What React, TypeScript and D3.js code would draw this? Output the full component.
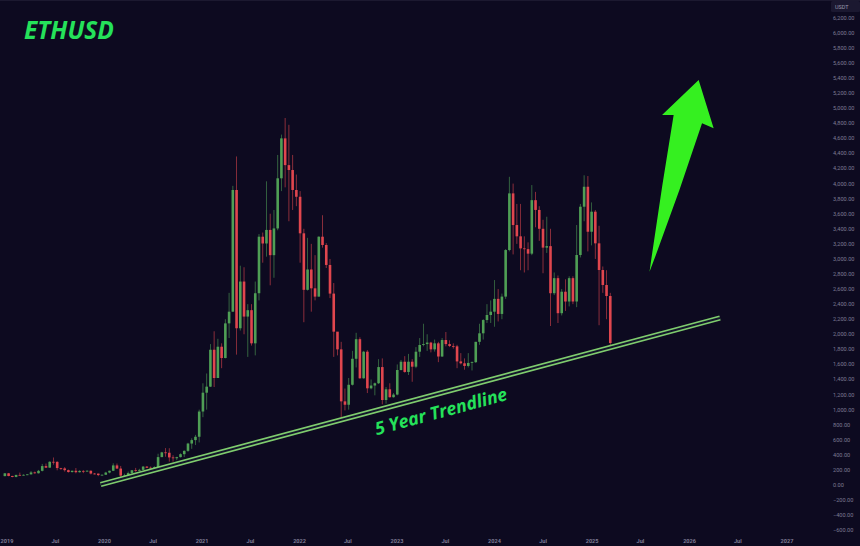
import React from "react";
import * as d3 from "d3";

// ---- Data: ETHUSD 2-week candles starting 2018-12-24 ----
const firstCandle = "2018-12-24";
const candleStepDays = 14;
const firstOpen = 118;
const closes = [
  155, 120, 107, 134, 131, 135, 141, 167, 156, 188, 251, 230, 308, 307, 225, 220, 197, 172, 189, 170, 187, 181, 189, 152, 151, 132, 136,
  165, 189, 260, 218, 125, 125, 158, 196, 188, 201, 244, 229, 228, 236, 370, 433, 428, 366, 355, 370, 409, 453, 550, 596, 640, 975,
  1225, 1305, 1795, 1420, 1835, 1685, 2145, 2300, 3915, 2080, 2700, 2235, 2320, 1880, 2545, 3295, 3205, 3385, 3050, 3405, 4070, 4600, 4245, 4180, 3915, 3825,
  3340, 2590, 2860, 2610, 2500, 3295, 3185, 2920, 2540, 2035, 1800, 1110, 1065, 1330, 1675, 1935, 1416, 1769, 1283, 1320, 1350, 1565, 1128, 1270, 1165, 1200,
  1526, 1636, 1500, 1636, 1570, 1769, 1858, 1870, 1890, 1800, 1880, 1705, 1924, 1870, 1845, 1840, 1640, 1615, 1580, 1620, 1630, 1900, 2013, 2189, 2256, 2300,
  2470, 2270, 2500, 3118, 3870, 3450, 3300, 3140, 3130, 3070, 3780, 3650, 3400, 3150, 3170, 2545, 2745, 2280, 2565, 2435, 2745, 2435, 3052, 3693, 3958, 3361,
  3627, 3207, 2853, 2654, 2508, 1884,
];
const highs = [
  160, 160, 122, 135, 165, 142, 145, 185, 178, 200, 280, 285, 315, 365, 315, 228, 237, 205, 190, 225, 196, 197, 196, 193, 160, 152, 139,
  175, 190, 288, 285, 253, 150, 178, 198, 227, 215, 253, 251, 245, 250, 415, 440, 490, 488, 395, 375, 420, 460, 560, 620, 665, 1000,
  1350, 1480, 1870, 2040, 1940, 1880, 2200, 2550, 3970, 4360, 2910, 2890, 2400, 2400, 2700, 3330, 3350, 4030, 3600, 3650, 4380, 4650, 4870, 4780, 4380, 4120,
  3900, 3400, 3280, 3200, 3050, 3300, 3580, 3210, 3000, 2680, 2020, 1900, 1280, 1420, 1780, 2020, 1960, 1780, 1790, 1400, 1360, 1670, 1680, 1300, 1350, 1220,
  1600, 1660, 1710, 1740, 1670, 1830, 1950, 2140, 2000, 1900, 1930, 1900, 1950, 2030, 1920, 1880, 1860, 1750, 1680, 1750, 1640, 1900, 2140, 2200, 2400, 2450,
  2720, 2600, 2540, 3130, 4090, 4000, 3730, 3730, 3300, 3220, 3980, 3890, 3700, 3520, 3560, 3400, 2820, 2780, 2600, 2730, 2770, 2770, 3450, 3730, 4110, 4100,
  3750, 3650, 3440, 2900, 2850, 2550,
];
const lows = [
  115, 115, 102, 102, 125, 125, 131, 140, 150, 152, 180, 227, 228, 270, 195, 200, 178, 165, 165, 155, 165, 157, 176, 140, 140, 117, 125,
  134, 155, 185, 215, 90, 105, 125, 150, 175, 180, 197, 225, 217, 228, 234, 370, 375, 310, 310, 330, 365, 370, 440, 480, 530, 565,
  900, 1000, 1300, 1300, 1420, 1550, 1680, 1950, 2300, 1730, 2050, 2000, 1700, 1850, 1720, 2450, 2950, 3030, 2650, 2750, 3380, 3900, 3950, 3500, 3650, 3700,
  2950, 2160, 2580, 2300, 2450, 2500, 3150, 2880, 2480, 1700, 1720, 880, 990, 1000, 1320, 1560, 1410, 1410, 1220, 1270, 1190, 1340, 1070, 1080, 1160, 1160,
  1190, 1520, 1490, 1460, 1370, 1550, 1700, 1840, 1780, 1760, 1770, 1630, 1700, 1840, 1830, 1810, 1550, 1600, 1530, 1560, 1520, 1620, 1860, 1930, 2150, 2150,
  2100, 2170, 2200, 2470, 3100, 3060, 3200, 2850, 2820, 2850, 3050, 3420, 3240, 2810, 3080, 2110, 2520, 2150, 2250, 2310, 2370, 2400, 2360, 3020, 3500, 3100,
  3180, 3000, 2120, 2550, 2200, 1830,
];

const yTickValues = d3.range(-600, 6201, 200);
const xTickDates = ["2019-01-01", "2019-07-01", "2020-01-01", "2020-07-01", "2021-01-01", "2021-07-01", "2022-01-01", "2022-07-01",
  "2023-01-01", "2023-07-01", "2024-01-01", "2024-07-01", "2025-01-01", "2025-07-01", "2026-01-01", "2026-07-01", "2027-01-01"];
const xTickLabels = ["2019", "Jul", "2020", "Jul", "2021", "Jul", "2022", "Jul", "2023", "Jul", "2024", "Jul", "2025", "Jul", "2026", "Jul", "2027"];

const trendDates = ["2019-12-18", "2026-04-25"];
const trendValues = [7, 2216];
const trendLabel = "5 Year Trendline";
const trendLabelDate = "2023-05-28";
const arrowTailDate = "2025-08-04";
const arrowTailValue = 2830;
const arrowTipDate = "2026-02-04";
const arrowTipValue = 5374;
const title = "ETHUSD";

const W = 860;
const H = 546;
const BG = "#0d0a20";
const UP = "#4f9f55";
const DOWN = "#e0464e";
const LABEL = "#7d7a93";
const BRIGHT = "#25e25a";

export default function App() {
  const x = d3.scaleUtc().domain([new Date("2019-01-01"), new Date("2027-01-01")]).range([7, 787]);
  const y = d3.scaleLinear().domain([0, 6200]).range([485, 17.8]);
  const t0 = new Date(firstCandle).getTime();
  const candles = closes.map((c, i) => ({
    date: new Date(t0 + i * candleStepDays * 864e5),
    open: i === 0 ? firstOpen : closes[i - 1],
    close: c,
    high: highs[i],
    low: lows[i],
  }));
  const bw = 2.6;
  const fmt = d3.format(",.2f");

  const tp = trendDates.map((d, i) => [x(new Date(d)), y(trendValues[i])]);
  const slope = (tp[1][1] - tp[0][1]) / (tp[1][0] - tp[0][0]);
  const angle = (Math.atan(slope) * 180) / Math.PI;
  const lx = x(new Date(trendLabelDate));
  const ly = tp[0][1] + slope * (lx - tp[0][0]);

  const tipX = x(new Date(arrowTipDate));
  const tipY = y(arrowTipValue);
  const tailX = x(new Date(arrowTailDate));
  const tailY = y(arrowTailValue);
  const arrowPath = `M${tipX},${tipY} L${tipX + 15},${tipY + 48.3} L${tipX + 3.4},${tipY + 43.3} Q${(tipX + 3.4 + tailX) / 2 + 2},${(tipY + 43.3 + tailY) / 2} ${tailX},${tailY} Q${(tipX - 25 + tailX) / 2 - 1},${(tipY + 35 + tailY) / 2} ${tipX - 25},${tipY + 35} L${tipX - 36.6},${tipY + 35} Z`;

  return (
    <svg width={W} height={H} style={{ position: "fixed", left: 0, top: 0, display: "block" }}>
      <rect x={0} y={0} width={W} height={H} fill={BG} />
      <line x1={0} x2={W} y1={0.5} y2={0.5} stroke="#1c1930" />
      {/* y axis labels */}
      <rect x={831} y={1} width={29} height={11} fill="#1b1830" rx={1.5} />
      <text x={835} y={8.6} fontSize={5.5} fill="#9a97ad" fontFamily="Roboto, sans-serif">USDT</text>
      {yTickValues.map((v) => (
        <text key={v} x={833} y={y(v)} dy="0.35em" fontSize={5.6} fill={LABEL} fontFamily="Roboto, sans-serif">
          {fmt(v)}
        </text>
      ))}
      {/* x axis labels */}
      {xTickDates.map((d, i) => (
        <text key={d} x={x(new Date(d))} y={542.5} textAnchor="middle" fontSize={5.6} fontWeight={700} fill={LABEL} fontFamily="Roboto, sans-serif">
          {xTickLabels[i]}
        </text>
      ))}
      {/* candles */}
      {candles.map((c, i) => {
        const up = c.close >= c.open;
        const col = up ? UP : DOWN;
        const cx = x(c.date);
        const top = y(Math.max(c.open, c.close));
        const bot = y(Math.min(c.open, c.close));
        return (
          <g key={i}>
            <line x1={cx} x2={cx} y1={y(c.high)} y2={y(c.low)} stroke={col} strokeWidth={0.8} opacity={0.75} />
            <rect x={cx - bw / 2} y={top} width={bw} height={Math.max(0.8, bot - top)} fill={col} />
          </g>
        );
      })}
      {/* trendline */}
      <line x1={tp[0][0]} y1={tp[0][1]} x2={tp[1][0]} y2={tp[1][1]} stroke="#7fcc6e" strokeWidth={5.2} />
      <line x1={tp[0][0]} y1={tp[0][1]} x2={tp[1][0]} y2={tp[1][1]} stroke="#12152a" strokeWidth={2} />
      <g transform={`translate(${lx},${ly}) rotate(${angle})`}>
        <text x={0} y={24} textAnchor="middle" fontSize={17.8} fontWeight={700} fontStyle="italic" fill={BRIGHT} fontFamily="'Open Sans', sans-serif">
          {trendLabel}
        </text>
      </g>
      {/* arrow */}
      <path d={arrowPath} fill="#35f020" />
      {/* title */}
      <text x={24} y={38.5} fontSize={24.5} fontWeight={700} fontStyle="italic" fill={BRIGHT} fontFamily="'Open Sans', sans-serif">
        {title}
      </text>
    </svg>
  );
}
